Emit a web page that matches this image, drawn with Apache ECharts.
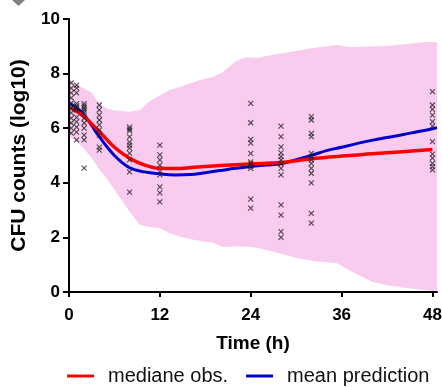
<!DOCTYPE html>
<html>
<head>
<meta charset="utf-8">
<script src="https://cdn.jsdelivr.net/npm/echarts@6/dist/echarts.min.js"></script>
<style>
  html, body { margin: 0; padding: 0; background: #fff; }
  #chart { width: 442px; height: 387px; }
</style>
</head>
<body>
<div id="chart"></div>
<script>
// x axis tick values (h)
const xTicks = [0, 12, 24, 36, 48]

// observed CFU counts, one list per sampling time
const obsTimes = [0.3, 1, 2, 4, 8, 12, 24, 28, 32, 48]
const obsValues = [
  [7.66, 7.47, 7.29, 7.11, 6.92, 6.74, 6.56, 6.37, 6.19, 6.0, 5.82],
  [7.58, 7.47, 7.29, 6.9, 6.82, 6.74, 6.66, 6.4, 6.23, 6.04, 5.86, 5.57],
  [6.9, 6.82, 6.74, 6.66, 6.58, 6.37, 6.19, 6.0, 5.75, 5.57, 4.54],
  [6.85, 6.67, 6.48, 6.3, 6.12, 5.93, 5.75, 5.31, 5.2],
  [6.04, 5.97, 5.9, 5.68, 5.49, 5.38, 5.27, 5.09, 4.84, 4.4, 3.66],
  [5.38, 5.02, 4.84, 4.65, 4.4, 4.29, 3.85, 3.63, 3.3],
  [6.91, 6.2, 5.59, 5.45, 5.08, 4.77, 4.7, 4.6, 4.53, 3.4, 3.07],
  [6.08, 5.69, 5.32, 5.1, 4.96, 4.84, 4.69, 4.53, 4.29, 3.19, 2.82, 2.21, 2.0],
  [6.42, 6.3, 5.81, 5.69, 5.08, 4.96, 4.84, 4.71, 4.53, 4.35, 4.0, 2.88, 2.52],
  [7.34, 6.85, 6.69, 6.48, 6.24, 6.08, 5.51, 5.05, 4.9, 4.71, 4.59, 4.47]
]

// prediction interval (pink band)
const bandTimes = [0, 1, 2, 3, 4, 5, 6, 8, 9.4, 10.7, 12, 13.3, 15, 17.3, 19, 20.3, 22.1, 23.4, 24.8, 27.4, 30, 32.2, 35.4, 37, 40, 42, 44.6, 47.2, 48.6]
const bandLow = [5.7, 5.5, 5.25, 4.9, 4.5, 4.15, 3.75, 2.95, 2.45, 2.38, 2.34, 2.15, 2.0, 1.87, 1.8, 1.65, 1.68, 1.66, 1.62, 1.45, 1.25, 1.14, 1.05, 0.8, 0.38, 0.25, 0.15, 0.06, 0.02]
const bandHigh = [7.8, 7.6, 7.45, 7.3, 6.9, 6.72, 6.65, 6.6, 6.67, 7.0, 7.2, 7.4, 7.55, 7.77, 7.88, 8.06, 8.46, 8.6, 8.57, 8.72, 8.83, 8.94, 9.05, 8.97, 8.99, 9.01, 9.08, 9.16, 9.16]

// median of observations
const medianTimes = [0, 1, 2, 3, 4, 6, 8, 10, 12, 14, 17, 20, 24, 28, 32, 36, 40, 44, 48]
const medianValues = [6.75, 6.62, 6.42, 6.15, 5.88, 5.3, 4.9, 4.65, 4.53, 4.52, 4.58, 4.63, 4.69, 4.74, 4.88, 4.98, 5.06, 5.14, 5.22]

// mean model prediction
const meanTimes = [0, 1, 2, 3, 4, 6, 8, 10, 12, 14, 16, 18, 20, 22, 24, 26, 28, 30, 32, 34, 36, 39, 42, 44, 46, 48, 48.6]
const meanValues = [6.92, 6.75, 6.48, 6.1, 5.69, 5.0, 4.55, 4.4, 4.33, 4.29, 4.3, 4.37, 4.45, 4.53, 4.6, 4.65, 4.7, 4.85, 5.0, 5.18, 5.3, 5.5, 5.66, 5.76, 5.87, 5.98, 6.02]

const pairs = (xs, ys) => xs.map((x, i) => [x, ys[i]])

const scatterData = []
obsTimes.forEach((t, i) => {
  obsValues[i].forEach(v => scatterData.push([t, v]))
})

const font = 'Liberation Sans'
const axisText = { color: '#000', fontFamily: font, fontWeight: 'bold', fontSize: 17 }

const myChart = echarts.init(document.getElementById('chart'))
const option = {
  animation: false,
  grid: { left: 69, right: 5, top: 19, bottom: 95, outerBoundsMode: 'none' },
  legend: {
    top: 361,
    left: 62,
    icon: 'rect',
    itemWidth: 27,
    itemHeight: 3,
    itemGap: 18,
    data: ['mediane obs.', 'mean prediction'],
    textStyle: { fontFamily: font, fontSize: 20, color: '#111', padding: [0, 0, 0, 9] }
  },
  xAxis: {
    type: 'value',
    min: 0,
    max: 48.6,
    z: 10,
    name: 'Time (h)',
    nameLocation: 'middle',
    nameGap: 42,
    nameTextStyle: { ...axisText, fontSize: 19 },
    axisLine: { lineStyle: { color: '#000', width: 2 } },
    axisTick: { length: 5, lineStyle: { color: '#000', width: 2 }, customValues: xTicks },
    axisLabel: { ...axisText, margin: 15, customValues: xTicks },
    splitLine: { show: false }
  },
  yAxis: {
    type: 'value',
    min: 0,
    max: 10,
    interval: 2,
    z: 10,
    name: 'CFU counts (log10)',
    nameLocation: 'middle',
    nameGap: 38,
    nameTextStyle: { ...axisText, fontSize: 21 },
    axisLine: { show: true, lineStyle: { color: '#000', width: 2 } },
    axisTick: { show: true, length: 6, lineStyle: { color: '#000', width: 2 } },
    axisLabel: { ...axisText, margin: 9 },
    splitLine: { show: false }
  },
  graphic: [
    {
      type: 'polygon',
      shape: { points: [[12, 0], [25, 0], [18.5, 6]] },
      style: { fill: '#808080' }
    }
  ],
  series: [
    {
      // upper edge of the band, filled down to the axis
      name: 'bandHigh',
      type: 'line',
      data: pairs(bandTimes, bandHigh),
      showSymbol: false,
      lineStyle: { width: 0 },
      areaStyle: { color: '#F9CCEF', opacity: 1 },
      silent: true,
      z: 1
    },
    {
      // lower edge, white fill hides the part under the band
      name: 'bandLow',
      type: 'line',
      data: pairs(bandTimes, bandLow),
      showSymbol: false,
      lineStyle: { width: 0 },
      areaStyle: { color: '#FFFFFF', opacity: 1 },
      silent: true,
      z: 1
    },
    {
      name: 'mean prediction',
      type: 'line',
      data: pairs(meanTimes, meanValues),
      smooth: 0.4,
      showSymbol: false,
      color: '#0000CC',
      lineStyle: { color: '#0000CC', width: 3 },
      z: 3
    },
    {
      name: 'mediane obs.',
      type: 'line',
      data: pairs(medianTimes, medianValues),
      smooth: 0.4,
      showSymbol: false,
      color: '#FF0000',
      lineStyle: { color: '#FF0000', width: 3.5 },
      z: 4
    },
    {
      name: 'obs',
      type: 'scatter',
      data: scatterData,
      symbol: 'path://M0,0L10,10M10,0L0,10',
      symbolSize: 5,
      itemStyle: { color: 'none', borderColor: '#222', borderWidth: 1.1 },
      z: 5
    }
  ]
}
myChart.setOption(option)
</script>
</body>
</html>
